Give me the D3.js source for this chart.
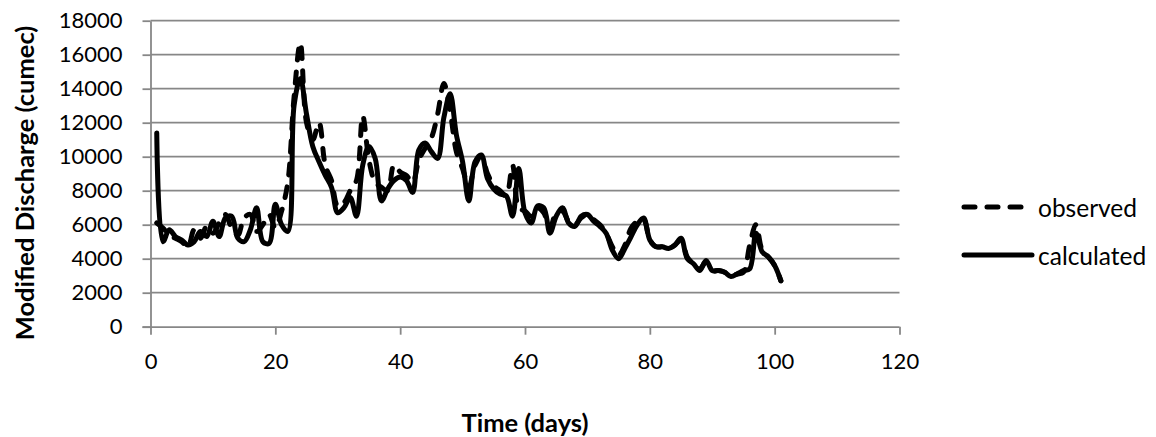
<!DOCTYPE html>
<html>
<head>
<meta charset="utf-8">
<script src="https://cdn.jsdelivr.net/npm/d3@7"></script>
<style>
  body { margin: 0; background: #fff; }
  svg { display: block; font-family: Lato, "Open Sans", sans-serif; }
  .grid line { stroke: #878787; stroke-width: 1.8; }
  .axis path, .axis line { stroke: #878787; stroke-width: 1.8; }
  .axis text { font-size: 22px; fill: #000; }
  .series { fill: none; stroke: #000; stroke-width: 5; stroke-linejoin: round; stroke-linecap: round; }
</style>
</head>
<body>
<svg width="1156" height="437"></svg>
<script>
// day index 1..101
const days = d3.range(1, 102);

const calculated = [
  11400, 5000, 5700, 5300, 5100, 4800, 5000, 5600, 5300, 6200,
  5300, 6400, 6500, 5200, 5000, 5700, 7000, 5000, 4900, 7200,
  6000, 5600, 13000, 14600, 12500, 10600, 9700, 8900, 8200, 6700,
  7000, 7600, 6500, 9500, 10600, 9900, 7400, 8100, 8600, 8800,
  8600, 7900, 10400, 10800, 10300, 9900, 12300, 13700, 11300, 9700,
  7400, 9700, 10100, 8700, 8100, 7800, 7700, 6500, 9300, 6700,
  6100, 7100, 7000, 5500, 6500, 7000, 6100, 5900, 6500, 6600,
  6200, 5900, 5500, 4500, 4000, 4600, 5300, 6000, 6400, 5100,
  4700, 4700, 4600, 4800, 5200, 4000, 3700, 3300, 3900, 3300,
  3300, 3200, 2950, 3100, 3300, 3400, 5500, 4400, 4100, 3600,
  2700
];

const observed = [
  6100, 5800, 5400, 5200, 5000, 4700, 5700, 5200, 5900, 5500,
  6100, 6600, 5800, 5400, 6400, 6600, 5600, 6000, 6600, 5800,
  6800, 8500, 13500, 16700, 12000, 11000, 12000, 9500, 8600, 7100,
  7300, 8000, 8600, 12400, 9800, 8500, 8200, 8000, 9500, 9100,
  8900, 8500, 9800, 10500, 11100, 12500, 14300, 12700, 10300, 9300,
  8200, 9500, 10000, 9000, 8300, 8000, 7700, 9500, 7000, 6800,
  6500, 7000, 6700, 5800, 6700, 6800, 6200, 6000, 6400, 6600,
  6300, 6000, 5500, 4700, 4200, 4800, 5800, 6200, 6300, 5100,
  4700, 4700, 4600, 4800, 5100, 4100, 3700, 3400, 3800, 3300,
  3300, 3200, 3000, 3100, 3200, 4800, 6000, 4500, 4100, 3600,
  2700
];

const xTicks = [0, 20, 40, 60, 80, 100, 120];
const yTicks = [0, 2000, 4000, 6000, 8000, 10000, 12000, 14000, 16000, 18000];

const svg = d3.select("svg");

const x = d3.scaleLinear().domain([0, 120]).range([150.5, 899.5]);
const y = d3.scaleLinear().domain([0, 18000]).range([326.7, 20.7]);

// horizontal gridlines
svg.append("g")
  .attr("class", "grid")
  .selectAll("line")
  .data(yTicks.filter(d => d > 0))
  .enter().append("line")
    .attr("x1", x(0))
    .attr("x2", x(120))
    .attr("y1", d => y(d))
    .attr("y2", d => y(d));

svg.append("g")
  .attr("class", "axis")
  .attr("transform", `translate(${x(0)},0)`)
  .call(d3.axisLeft(y).tickValues(yTicks).tickFormat(d3.format("d"))
    .tickSize(8).tickPadding(20).tickSizeOuter(0));

const xAxis = svg.append("g")
  .attr("class", "axis")
  .attr("transform", `translate(0,${y(0)})`)
  .call(d3.axisBottom(x).tickValues(xTicks).tickFormat(d3.format("d"))
    .tickSize(8).tickPadding(19).tickSizeOuter(0));
xAxis.select(".domain").attr("d", `M${x(0) - 8},0.5H${x(120)}`);

svg.selectAll(".axis text").attr("font-family", "Lato, sans-serif");

const line = d3.line()
  .x((d, i) => x(days[i]))
  .y(d => y(d))
  .curve(d3.curveCatmullRom.alpha(0.5));

svg.append("path")
  .datum(observed)
  .attr("class", "series")
  .attr("stroke-dasharray", "11,12")
  .attr("d", line);

svg.append("path")
  .datum(calculated)
  .attr("class", "series")
  .attr("d", line);

// axis titles
svg.append("text")
  .attr("x", (x(0) + x(120)) / 2)
  .attr("y", 422)
  .attr("text-anchor", "middle")
  .attr("dominant-baseline", "central")
  .attr("font-size", 25.5)
  .attr("font-weight", "bold")
  .text("Time (days)");

svg.append("text")
  .attr("transform", "translate(24,183) rotate(-90)")
  .attr("text-anchor", "middle")
  .attr("dominant-baseline", "central")
  .attr("font-size", 25.5)
  .attr("font-weight", "bold")
  .text("Modified Discharge (cumec)");

// legend
const legendItems = [
  {name: "observed", dash: "11,12", y: 207, x2: 1025},
  {name: "calculated", dash: null, y: 255, x2: 1032}
];

const legend = svg.append("g");
legendItems.forEach(item => {
  legend.append("line")
    .attr("class", "series")
    .attr("x1", 964)
    .attr("x2", item.x2)
    .attr("y1", item.y)
    .attr("y2", item.y)
    .attr("stroke-dasharray", item.dash);
  legend.append("text")
    .attr("x", 1038)
    .attr("y", item.y)
    .attr("dominant-baseline", "central")
    .attr("font-size", 24.5)
    .text(item.name);
});
</script>
</body>
</html>
